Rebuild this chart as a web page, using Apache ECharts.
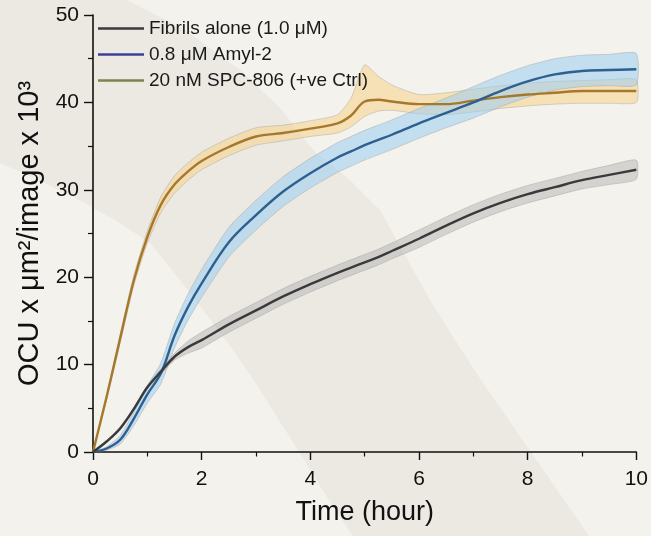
<!DOCTYPE html>
<html>
<head>
<meta charset="utf-8">
<script src="https://cdn.jsdelivr.net/npm/echarts@6/dist/echarts.min.js"></script>
<style>
html,body{margin:0;padding:0;background:#f4f2ec;}
#chart{width:651px;height:536px;}
</style>
</head>
<body>
<div id="chart"></div>
<script>
// ---- data ----
const time = [0,0.25,0.5,0.75,1,1.25,1.5,1.75,2,2.5,3,3.5,4,4.5,4.75,5,5.25,5.5,6,6.5,7,7.5,8,8.5,9,9.5,10];

const fibrilsMean  = [0,1.2,2.7,4.9,7.4,9.2,10.9,12.0,12.8,14.6,16.2,17.8,19.2,20.5,21.1,21.7,22.3,23.0,24.4,25.9,27.3,28.5,29.5,30.3,31.1,31.7,32.3];
const fibrilsUpper = [0,1.3,2.9,5.1,7.6,9.5,11.3,12.7,13.7,15.5,17.1,18.7,20.1,21.4,22.0,22.6,23.2,23.9,25.4,26.9,28.3,29.5,30.5,31.3,32.1,32.8,33.4];
const fibrilsLower = [0,1.1,2.5,4.7,7.2,8.9,10.5,11.3,11.9,13.7,15.3,16.9,18.3,19.6,20.2,20.8,21.4,22.1,23.4,24.9,26.3,27.5,28.5,29.3,30.1,30.6,31.2];

const amylMean  = [0,0.4,1.4,3.8,6.6,9.0,13.3,16.6,19.3,24.0,27.1,29.8,31.9,33.7,34.4,35.1,35.7,36.3,37.6,38.8,40.0,41.3,42.4,43.2,43.6,43.7,43.8];
const amylUpper = [0,0.6,1.9,4.6,7.6,10.2,14.7,18.1,20.9,25.7,28.8,31.5,33.6,35.4,36.1,36.8,37.4,38.0,39.3,40.5,41.8,43.1,44.2,45.0,45.4,45.5,45.6];
const amylLower = [0,0.2,0.9,3.0,5.6,7.8,11.9,15.1,17.7,22.3,25.4,28.1,30.2,32.0,32.7,33.4,34.0,34.6,35.9,37.1,38.2,39.5,40.6,41.4,41.8,41.9,42.0];

const spcMean  = [0,6.3,13.0,19.6,24.6,28.3,30.6,32.1,33.3,34.9,36.1,36.5,37.0,37.6,38.5,40.1,40.3,40.1,39.8,39.8,40.2,40.6,40.9,41.1,41.3,41.3,41.3];
const spcUpper = [0,6.6,13.5,20.2,25.3,29.2,31.6,33.1,34.3,35.9,37.1,37.4,37.9,38.6,40.5,44.3,43.0,42.0,40.9,41.1,41.5,41.9,42.2,42.4,42.5,42.6,42.6];
const spcLower = [0,6.0,12.5,19.0,23.9,27.4,29.6,31.1,32.3,33.9,35.1,35.6,36.1,36.5,37.2,38.4,39.0,39.1,38.7,38.6,38.9,39.3,39.6,39.8,39.9,39.9,40.0];

const seriesNames = ['Fibrils alone (1.0 μM)', '0.8 μM Amyl-2', '20 nM SPC-806 (+ve Ctrl)'];
const xTicks = {min: 0, max: 10, interval: 2};
const yTicks = {min: 0, max: 50, interval: 10};

// ---- helpers ----
const FONT = "'Liberation Sans', Arial, sans-serif";
function pairs(ys){ return time.map((t,i)=>[t, ys[i]]); }

function bandSeries(lower, upper, fill, z){
  const data = time.map((t,i)=>[t, lower[i], upper[i]]);
  return {
    type: 'custom',
    silent: true,
    z: z,
    data: data,
    encode: {x: 0, y: [1, 2]},
    renderItem: function(params, api){
      if (params.dataIndex !== 0) return null;
      const pts = [];
      for (let i = 0; i < data.length; i++) pts.push(api.coord([data[i][0], data[i][2]]));
      for (let i = data.length - 1; i >= 0; i--) pts.push(api.coord([data[i][0], data[i][1]]));
      return {
        type: 'polygon',
        shape: {points: pts, smooth: 0.2},
        style: {fill: fill, stroke: 'rgba(140,140,140,0.4)', lineWidth: 0.8}
      };
    }
  };
}

function meanSeries(ys, color){
  return {
    type: 'line', data: pairs(ys), smooth: 0.35, symbol: 'none', z: 5,
    lineStyle: {color: color, width: 2.4}, silent: true
  };
}

function legendSeries(name, color){
  return {type: 'line', name: name, data: [], symbol: 'none', lineStyle: {color: color, width: 2.6}, itemStyle: {color: color}};
}

const chart = echarts.init(document.getElementById('chart'), null, {renderer: 'canvas'});

const option = {
  backgroundColor: '#f4f2ec',
  animation: false,
  textStyle: {fontFamily: FONT},
  graphic: [{
    type: 'polygon', z: -10, silent: true,
    shape: {points: [
      [0,0],[127,0],[185,30],[240,70],[280,108],[313,150],[350,180],[380,210],[405,255],[430,300],[455,340],[481,380],[535,458],[589,536],
      [353,536],[325,494],[300,453],[280,422],[257,385],[233,350],[207,315],[180,280],[150,243],[115,220],[75,198],[35,178],[0,163]
    ]},
    style: {fill: '#ece9e3'}
  }],
  grid: {left: 93, right: 14, top: 15, bottom: 84, containLabel: false},
  legend: {
    data: seriesNames.map(n => ({name: n, icon: 'rect'})),
    orient: 'vertical', left: 93, top: 19,
    itemWidth: 46, itemHeight: 2.6, itemGap: 7,
    padding: [0,0,0,5],
    textStyle: {fontSize: 19, color: '#1a1a1a', fontFamily: FONT},
    selectedMode: false
  },
  xAxis: {
    type: 'value', min: xTicks.min, max: xTicks.max, interval: xTicks.interval,
    name: 'Time (hour)', nameLocation: 'middle', nameGap: 47,
    nameTextStyle: {fontSize: 27, color: '#111', fontFamily: FONT},
    axisLine: {onZero: false, lineStyle: {color: '#111', width: 1.6}},
    axisTick: {show: true, inside: false, length: 8, lineStyle: {color: '#111', width: 1.4}},
    minorTick: {show: true, splitNumber: 2, length: 4.5, lineStyle: {color: '#111', width: 1.2}},
    axisLabel: {fontSize: 21, color: '#111', margin: 17, fontFamily: FONT},
    splitLine: {show: false}
  },
  yAxis: {
    type: 'value', min: yTicks.min, max: yTicks.max, interval: yTicks.interval,
    name: 'OCU x μm²/image x 10³', nameLocation: 'middle', nameGap: 44,
    nameTextStyle: {fontSize: 29, color: '#111', fontFamily: FONT},
    axisLine: {show: true, onZero: false, lineStyle: {color: '#111', width: 1.6}},
    axisTick: {show: true, inside: false, length: 9, lineStyle: {color: '#111', width: 1.4}},
    minorTick: {show: true, splitNumber: 2, length: 5, lineStyle: {color: '#111', width: 1.2}},
    axisLabel: {fontSize: 21, color: '#111', margin: 14, fontFamily: FONT},
    splitLine: {show: false}
  },
  series: [
    bandSeries(spcLower, spcUpper, 'rgba(248,208,130,0.5)', 2),
    bandSeries(amylLower, amylUpper, 'rgba(155,205,242,0.55)', 3),
    bandSeries(fibrilsLower, fibrilsUpper, 'rgba(180,180,180,0.5)', 4),
    meanSeries(spcMean, '#a6782c'),
    meanSeries(amylMean, '#2d6090'),
    meanSeries(fibrilsMean, '#3a3a3a'),
    legendSeries(seriesNames[0], '#3a3a3a'),
    legendSeries(seriesNames[1], '#3d3f96'),
    legendSeries(seriesNames[2], '#80804a')
  ]
};
chart.setOption(option);
</script>
</body>
</html>
